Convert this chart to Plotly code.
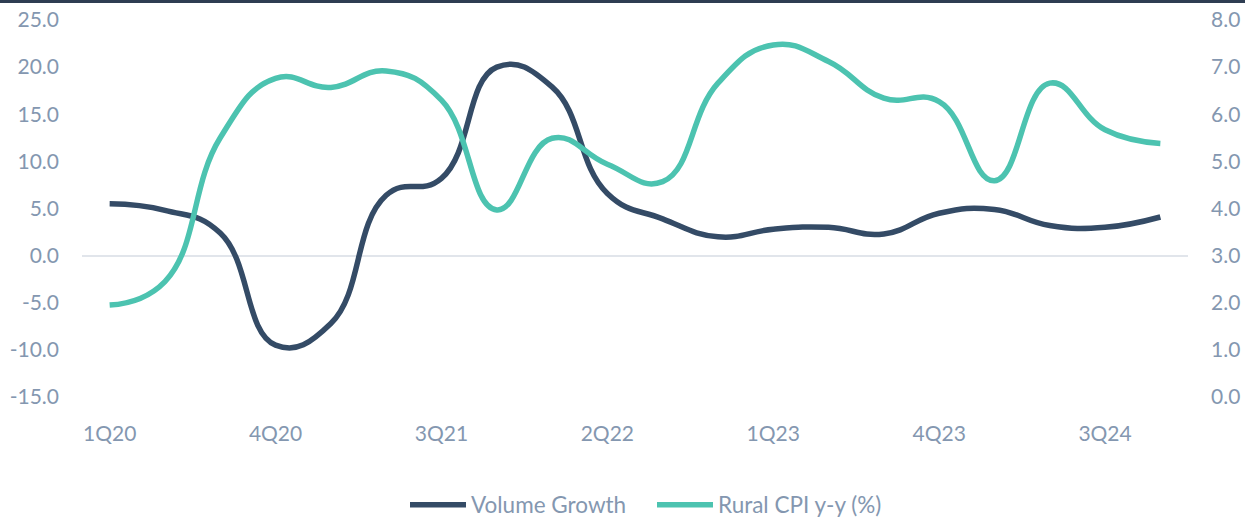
import plotly.graph_objects as go

# Quarterly categories 1Q20 .. 4Q24
quarters = [f"{q}Q{y}" for y in range(20, 25) for q in range(1, 5)]
tick_labels = ["1Q20", "4Q20", "3Q21", "2Q22", "1Q23", "4Q23", "3Q24"]

volume_growth = [5.5, 4.8, 2.4, -9.5, -7.2, 6.4, 8.2, 20.0, 17.9, 6.6,
                 3.9, 2.0, 2.8, 3.0, 2.3, 4.5, 4.9, 3.2, 3.0, 4.1]
rural_cpi = [1.95, 2.45, 5.5, 6.76, 6.57, 6.92, 6.3, 3.97, 5.49, 4.94,
             4.57, 6.66, 7.47, 7.12, 6.34, 6.27, 4.59, 6.66, 5.67, 5.38]

left_ticks = [-15, -10, -5, 0, 5, 10, 15, 20, 25]
right_ticks = [0, 1, 2, 3, 4, 5, 6, 7, 8]

DARK = "#344b66"
TEAL = "#4cc3b0"
TEXT = "#8497b0"
FONT = "Lato"

W, H = 1245, 517
ML, MR, MT, MB = 82, 57, 20, 120

fig = go.Figure()
fig.add_trace(go.Scatter(
    x=quarters, y=volume_growth, name="Volume Growth", mode="lines",
    line=dict(color=DARK, width=5.5, shape="spline", smoothing=1.3),
    yaxis="y",
))
fig.add_trace(go.Scatter(
    x=quarters, y=rural_cpi, name="Rural CPI y-y (%)", mode="lines",
    line=dict(color=TEAL, width=5.5, shape="spline", smoothing=1.3),
    yaxis="y2",
))

fig.update_layout(
    width=W, height=H,
    margin=dict(l=ML, r=MR, t=MT, b=MB, autoexpand=False),
    paper_bgcolor="white", plot_bgcolor="white",
    font=dict(family=FONT, size=21, color=TEXT),
    showlegend=True,
    legend=dict(
        orientation="h", xref="container", x=652 / W, xanchor="center",
        yref="container", y=(H - 505) / H, yanchor="middle",
        font=dict(family=FONT, size=22.5, color=TEXT),
        itemwidth=56, entrywidth=176, traceorder="normal",
    ),
    xaxis=dict(
        type="category", categoryorder="array", categoryarray=quarters,
        range=[-0.5, len(quarters) - 0.5],
        tickmode="array", tickvals=tick_labels, ticktext=tick_labels,
        showgrid=False, showline=False, zeroline=False, ticks="",
        ticklabelstandoff=22,
        tickfont=dict(family=FONT, size=21, color=TEXT),
    ),
    yaxis=dict(
        range=[-15, 25], tickmode="array", tickvals=left_ticks,
        ticktext=[f"{v:.1f}" for v in left_ticks],
        showgrid=False, showline=False, ticks="",
        zeroline=True, zerolinecolor="#e1e5eb", zerolinewidth=2,
        ticklabelstandoff=22,
        tickfont=dict(family=FONT, size=21, color=TEXT),
    ),
    yaxis2=dict(
        range=[0, 8], tickmode="array", tickvals=right_ticks,
        ticktext=[f"{v:.1f}" for v in right_ticks],
        overlaying="y", side="right",
        showgrid=False, showline=False, ticks="", zeroline=False,
        ticklabelstandoff=22,
        tickfont=dict(family=FONT, size=21, color=TEXT),
    ),
    shapes=[dict(
        type="rect", xref="paper", yref="paper",
        x0=-ML / (W - ML - MR), x1=1 + MR / (W - ML - MR),
        y0=1 + (MT - 3) / (H - MT - MB), y1=1 + (MT + 1) / (H - MT - MB),
        fillcolor="#2e3d52", line=dict(width=0), layer="above",
    )],
)

fig.write_html("out.html")
